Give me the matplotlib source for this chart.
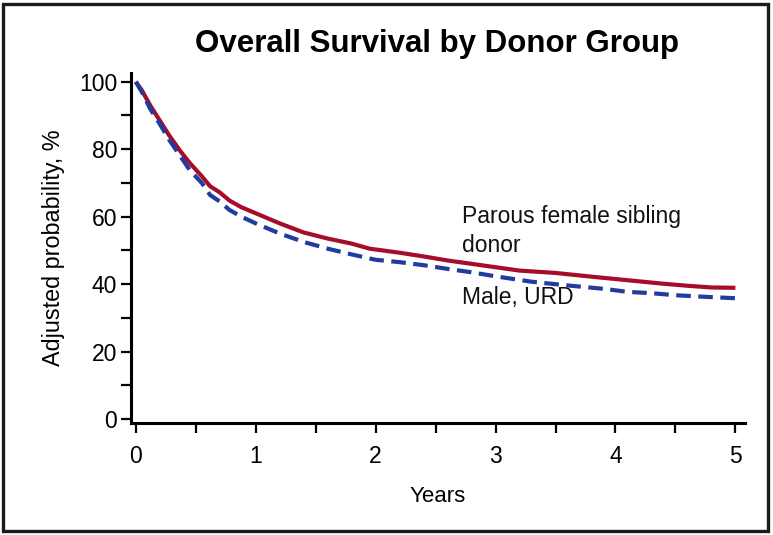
import matplotlib
matplotlib.use("Agg")
import matplotlib.pyplot as plt
from matplotlib.patches import Rectangle

# adjusted overall survival
years_red = [0, 0.05, 0.12, 0.2, 0.28, 0.37, 0.45, 0.55, 0.62, 0.7, 0.78, 0.88, 1.0,
             1.2, 1.4, 1.6, 1.8, 1.95, 2.2, 2.4, 2.6, 2.8, 3.0, 3.2, 3.5, 3.8, 4.0,
             4.2, 4.4, 4.6, 4.8, 5.0]
parous_female = [100, 97.5, 93, 88.5, 84, 79.5, 75.9, 72, 69, 67.2, 64.8, 62.8, 61,
                 58, 55.3, 53.5, 52, 50.5, 49.3, 48.2, 47, 46, 45, 44, 43.3, 42.2, 41.5,
                 40.8, 40.1, 39.5, 39.0, 38.9]

years_blue = [0, 0.05, 0.12, 0.2, 0.28, 0.37, 0.45, 0.55, 0.62, 0.7, 0.78, 0.88, 1.0,
              1.2, 1.4, 1.6, 1.8, 2.0, 2.2, 2.4, 2.6, 2.8, 3.0, 3.3, 3.6, 3.9, 4.1,
              4.3, 4.5, 4.7, 5.0]
male_urd = [100, 97, 92, 87.5, 82.7, 78, 73.8, 70, 66.4, 64.5, 62, 60, 58,
            55, 52.5, 50.5, 48.8, 47.2, 46.5, 45.6, 44.5, 43.5, 42.3, 40.7, 39.6, 38.6, 37.7,
            37.3, 36.7, 36.3, 35.8]

x_ticks = [0, 1, 2, 3, 4, 5]
y_ticks = [0, 20, 40, 60, 80, 100]

plt.rcParams['font.family'] = ['Liberation Sans', 'DejaVu Sans']
narrow = ['Liberation Sans Narrow', 'Liberation Sans', 'DejaVu Sans']

fig = plt.figure(figsize=(7.73, 5.35), dpi=100)
ax = fig.add_axes([131 / 773, 112 / 535, 614 / 773, 350 / 535])

ax.plot(years_red, parous_female, color="#a50d2b", lw=3.0, solid_capstyle="butt")
ax.plot(years_blue, male_urd, color="#1f3c9e", lw=3.0, dashes=(3.5, 1.8))

ax.set_xlim(-0.04, 5.08)
ax.set_ylim(-1.2, 102.6)
xpos = [i * 0.5 for i in range(11)]
ax.set_xticks(xpos)
ax.set_xticklabels([str(int(t)) if t in x_ticks else "" for t in xpos])
ax.set_yticks(list(range(0, 101, 10)))
ax.set_yticklabels([str(t) if t in y_ticks else "" for t in range(0, 101, 10)])

for side in ["top", "right"]:
    ax.spines[side].set_visible(False)
for side in ["left", "bottom"]:
    ax.spines[side].set_linewidth(2.2)
ax.tick_params(length=7, width=1.6, labelsize=16.5, pad=3, colors="black")
ax.tick_params(axis="x", pad=9)

ax.set_xlabel("Years", fontsize=16, family=narrow, labelpad=13)
ax.set_ylabel("Adjusted probability, %", fontsize=16.8, family=narrow, labelpad=10)

ax.text(2.72, 55.8, "Parous female sibling\ndonor", fontsize=16.5, va="center",
        ha="left", linespacing=1.3, color="#111111")
ax.text(2.72, 36.0, "Male, URD", fontsize=16.5, va="center", ha="left", color="#111111")

fig.text(0.565, 0.918, "Overall Survival by Donor Group", fontsize=22.5,
         fontweight="bold", ha="center", va="center")

fig.patches.append(Rectangle((3 / 773, 4 / 535), 765 / 773, 527 / 535, transform=fig.transFigure,
                             fill=False, edgecolor="#1a1a1a", linewidth=2.4))

fig.savefig("out.png", dpi=100)
